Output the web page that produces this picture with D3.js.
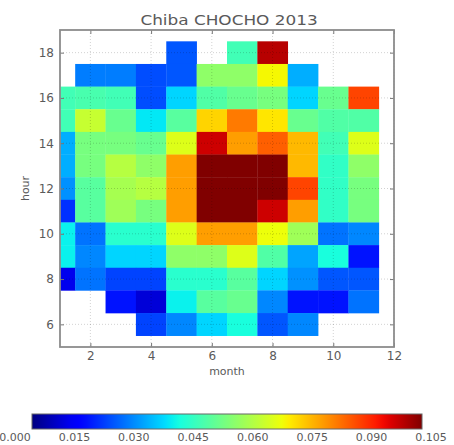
<!DOCTYPE html>
<html><head><meta charset="utf-8">
<script src="https://cdn.jsdelivr.net/npm/d3@7"></script>
<style>body{margin:0;background:#fff}svg{display:block}text{font-family:"DejaVu Sans",sans-serif;fill:#5a5a5a}</style>
</head><body>
<svg id="c" width="454" height="445"></svg>
<script>
const title = "Chiba CHOCHO 2013";
const months = [1,2,3,4,5,6,7,8,9,10,11];
const hours = [18,17,16,15,14,13,12,11,10,9,8,7,6];
const values = [
 [null,null,null,null,0.022,null,0.045,0.100,null,null,null],
 [null,0.026,0.026,0.021,0.022,0.055,0.055,0.068,0.031,null,null],
 [0.045,0.046,0.045,0.021,0.035,0.047,0.050,0.052,0.035,0.050,0.088],
 [0.045,0.062,0.050,0.037,0.048,0.072,0.082,0.070,0.050,0.047,0.047],
 [0.031,0.052,0.052,0.050,0.065,0.098,0.078,0.085,0.075,0.045,0.065],
 [0.031,0.052,0.060,0.055,0.078,0.105,0.105,0.105,0.075,0.043,0.055],
 [0.028,0.048,0.058,0.060,0.078,0.105,0.105,0.105,0.088,0.043,0.052],
 [0.018,0.048,0.057,0.052,0.078,0.105,0.105,0.098,0.078,0.043,0.052],
 [0.038,0.025,0.042,0.042,0.065,0.078,0.078,0.067,0.057,0.025,0.027],
 [0.038,0.027,0.035,0.035,0.055,0.055,0.065,0.047,0.030,0.040,0.015],
 [0.010,0.025,0.020,0.020,0.042,0.042,0.048,0.035,0.028,0.022,0.022],
 [null,null,0.015,0.008,0.038,0.048,0.050,0.027,0.015,0.015,0.025],
 [null,null,null,0.020,0.027,0.035,0.040,0.022,0.027,null,null]
];
const xTicks = [2,4,6,8,10,12];
const yTicks = [6,8,10,12,14,16,18];
const cbTicks = [0,0.015,0.030,0.045,0.060,0.075,0.090,0.105];

function interp(pts, t){
  for(let i=1;i<pts.length;i++){
    if(t<=pts[i][0]){const [a,va]=pts[i-1],[b,vb]=pts[i];return va+(vb-va)*(t-a)/(b-a);}
  }
  return pts[pts.length-1][1];
}
function jet(t){
  t=Math.max(0,Math.min(1,t));
  const r=interp([[0,0],[0.35,0],[0.66,1],[0.89,1],[1,0.5]],t);
  const g=interp([[0,0],[0.125,0],[0.375,1],[0.64,1],[0.91,0],[1,0]],t);
  const b=interp([[0,0.5],[0.11,1],[0.34,1],[0.65,0],[1,0]],t);
  return d3.rgb(r*255,g*255,b*255).formatHex();
}

const svg = d3.select("#c");
const x = d3.scaleLinear().domain([1,12]).range([60,394]);
const y = d3.scaleLinear().domain([5,19]).range([347,30]);
const color = d3.scaleSequential(jet).domain([0,0.105]);

svg.append("defs").append("clipPath").attr("id","pc")
  .append("rect").attr("x",x(1)).attr("y",y(19)).attr("width",x(12)-x(1)).attr("height",y(5)-y(19));

const cells=[];
hours.forEach((h,i)=>months.forEach((m,j)=>{const v=values[i][j];if(v!==null)cells.push({m,h,v});}));

const g = svg.append("g").attr("clip-path","url(#pc)");
g.selectAll("rect.cell").data(cells).join("rect").attr("class","cell")
  .attr("x",d=>x(d.m-0.5)).attr("y",d=>y(d.h+0.5))
  .attr("width",d=>x(d.m+0.5)-x(d.m-0.5)+0.3).attr("height",d=>y(d.h-0.5)-y(d.h+0.5)+0.3)
  .attr("fill",d=>color(d.v));

// grid
const grid = svg.append("g").attr("stroke","#000").attr("stroke-opacity",0.18).attr("stroke-dasharray","1,2");
grid.selectAll("line.vx").data(xTicks).join("line").attr("x1",d=>x(d)).attr("x2",d=>x(d)).attr("y1",y(19)).attr("y2",y(5));
grid.selectAll("line.hy").data(yTicks).join("line").attr("y1",d=>y(d)).attr("y2",d=>y(d)).attr("x1",x(1)).attr("x2",x(12));

// axes
svg.append("g").attr("transform",`translate(0,${y(5)})`)
  .call(d3.axisBottom(x).tickValues(xTicks).tickSize(-4).tickPadding(4));
svg.append("g").attr("transform",`translate(${x(1)},0)`)
  .call(d3.axisLeft(y).tickValues(yTicks).tickSize(-4).tickPadding(6));
svg.append("g").attr("transform",`translate(0,${y(19)})`)
  .call(d3.axisTop(x).tickValues(xTicks).tickSize(-4).tickFormat(""));
svg.append("g").attr("transform",`translate(${x(12)},0)`)
  .call(d3.axisRight(y).tickValues(yTicks).tickSize(-4).tickFormat(""));
svg.selectAll(".domain").remove();
svg.selectAll(".tick line").attr("stroke","#777");
svg.selectAll(".tick text").attr("font-size",12).attr("fill","#5a5a5a").style("font-family","DejaVu Sans, sans-serif");

svg.append("rect").attr("x",x(1)).attr("y",y(19)).attr("width",x(12)-x(1)).attr("height",y(5)-y(19))
  .attr("fill","none").attr("stroke","#8c8c8c").attr("stroke-width",1.8);

svg.append("text").attr("transform","translate(229,25) scale(1.25,1)").attr("text-anchor","middle").attr("font-size",13.5).text(title);
svg.append("text").attr("x",(x(1)+x(12))/2).attr("y",375).attr("text-anchor","middle").attr("font-size",11).text("month");
svg.append("text").attr("transform",`translate(29,${y(12)}) rotate(-90)`).attr("text-anchor","middle").attr("font-size",11).text("hour");

// colorbar
const cbx = d3.scaleLinear().domain([0,0.105]).range([32,422]);
const grad = svg.select("defs").append("linearGradient").attr("id","jg");
grad.selectAll("stop").data(d3.range(0,1.0001,0.02)).join("stop")
  .attr("offset",d=>d).attr("stop-color",d=>color(d*0.105));
svg.append("rect").attr("x",cbx(0)).attr("y",414).attr("width",cbx(0.105)-cbx(0)).attr("height",15)
  .attr("fill","url(#jg)").attr("stroke","#666").attr("stroke-width",1);
const cbl = d3.scaleLinear().domain([0,0.105]).range([15,431]);
svg.append("g").selectAll("text").data(cbTicks).join("text")
  .attr("x",d=>cbl(d)).attr("y",441).attr("text-anchor","middle").attr("font-size",11)
  .text(d=>d3.format(".3f")(d));
</script>
</body></html>
